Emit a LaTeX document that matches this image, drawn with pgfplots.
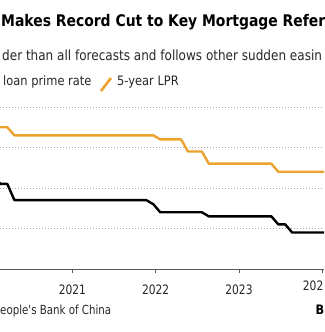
\documentclass[border=0pt]{standalone}
\usepackage{pgfplots}
\pgfplotsset{compat=1.18}
\usepackage{fontspec}
\setmainfont{DejaVu Sans}
\newfontfamily\tah[FakeStretch=0.88]{DejaVu Sans}
\newfontfamily\tahs[FakeStretch=0.86]{DejaVu Sans}
\newfontfamily\tahn[FakeStretch=0.82]{DejaVu Sans}
\newfontfamily\tahb[FakeStretch=0.87]{DejaVu Sans Bold}
\definecolor{lprorange}{RGB}{236,162,46}
\definecolor{txt}{RGB}{40,40,40}
\begin{document}
\begin{tikzpicture}[x=1pt,y=1pt]
\useasboundingbox (0,0) rectangle (324,332);
\clip (0,0) rectangle (324,332);
\fill[white] (0,0) rectangle (324,332);
\begin{axis}[
  at={(0pt,63pt)}, anchor=south west,
  scale only axis, width=324pt, height=162pt,
  xmin=2020.132, xmax=2024.02, ymin=3, ymax=5,
  axis x line*=bottom, axis y line*=left,
  y axis line style={draw=none},
  x axis line style={draw=black!65, line width=0.8pt},
  xtick={2021,2022,2023,2024},
  xticklabels={2021,2022,2023,},
  xtick align=outside, major tick length=4pt,
  xtick style={draw=black!65, line width=0.8pt},
  xticklabel style={font=\tahn\fontsize{13}{13}\selectfont, text=txt, anchor=base, yshift=-22pt},
  /pgf/number format/assume math mode=true,
  ytick={3.5,4,4.5,5}, yticklabels={}, ytick style={draw=none},
  ymajorgrids, grid style={black!35, line width=0.7pt, dash pattern=on 0.7pt off 2.3pt},
  clip=false,
]
\addplot[black, line width=2.4pt, line join=round] coordinates {
(2020.055,4.15) (2020.138,4.05) (2020.22,4.05) (2020.305,3.85) (2021.888,3.85) (2021.972,3.80) (2022.055,3.70) (2022.555,3.70) (2022.638,3.65) (2023.388,3.65) (2023.472,3.55) (2023.555,3.55) (2023.638,3.45) (2024.055,3.45)};
\addplot[lprorange, line width=2.4pt, line join=round] coordinates {
(2020.055,4.80) (2020.138,4.75) (2020.22,4.75) (2020.305,4.65) (2021.972,4.65) (2022.055,4.60) (2022.305,4.60) (2022.388,4.45) (2022.555,4.45) (2022.638,4.30) (2023.388,4.30) (2023.472,4.20) (2024.055,4.20)};
\end{axis}
\node[anchor=base east, text=txt, font=\tahn\fontsize{13}{13}\selectfont, inner sep=0] at (323.5,41) {202};
% title
\node[anchor=base west, inner sep=0, font=\tahb\fontsize{16}{16}\selectfont] at (1,305) {Makes Record Cut to Key Mortgage Refer};
\node[anchor=base west, inner sep=0, text=txt, font=\tahs\fontsize{14}{14}\selectfont] at (2,271) {der than all forecasts and follows other sudden easin};
\node[anchor=base west, inner sep=0, text=txt, font=\tah\fontsize{13}{13}\selectfont] at (3,246) {loan prime rate};
\draw[lprorange, line width=2.6pt] (101,241) -- (111,254);
\node[anchor=base west, inner sep=0, text=txt, font=\tah\fontsize{13}{13}\selectfont] at (117,246) {5-year LPR};
\node[anchor=base west, inner sep=0, text=txt, font=\tahn\fontsize{12.5}{12.5}\selectfont] at (0,17) {eople's Bank of China};
\node[anchor=base west, inner sep=0, font=\tahb\fontsize{13}{13}\selectfont] at (315.5,17) {B};
\end{tikzpicture}
\end{document}
